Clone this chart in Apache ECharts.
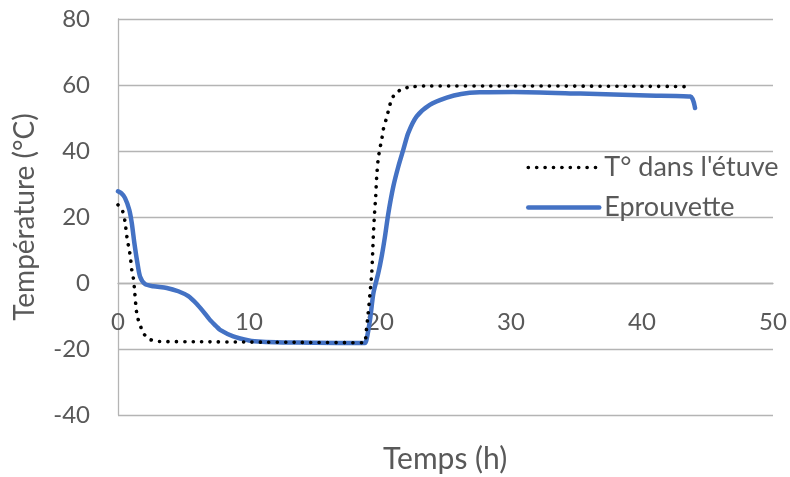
<!DOCTYPE html>
<html><head><meta charset="utf-8">
<script src="https://cdn.jsdelivr.net/npm/echarts@6/dist/echarts.min.js"></script>
<style>html,body{margin:0;padding:0;background:#fff}#c{width:790px;height:477px}</style>
</head><body><div id="c"></div>
<script>
const etuveX = [0, 0.36, 0.53, 0.71, 0.86, 0.97, 1.05, 1.17, 1.25, 1.37, 1.47, 1.68, 1.93, 2.39, 3, 6, 10, 14, 18.8, 18.93, 19.1, 19.24, 19.37, 19.44, 19.49, 19.57, 19.67, 19.75, 19.87, 20, 20.13, 20.25, 20.46, 20.63, 20.82, 21.1, 21.6, 22.3, 23.6, 30, 40, 43.3, 43.5];
const etuveY = [23.7, 21.7, 18.7, 13.1, 10.1, 7, 4, 1.5, -1.5, -7.1, -10.1, -12.6, -15.2, -17, -17.7, -17.8, -17.9, -18, -18.1, -15.2, -9.1, -3, 3, 9.1, 14.1, 20.2, 26.2, 32.3, 37.9, 40.9, 43.4, 46.5, 49.5, 52, 54.8, 57.1, 58.6, 59.4, 59.7, 59.7, 59.6, 59.5, 58.8];
const eprouX = [0, 0.25, 0.53, 0.86, 1.05, 1.25, 1.48, 1.68, 2.06, 2.7, 3.72, 4.6, 5.37, 6.0, 6.5, 7, 7.5, 7.79, 8.8, 10, 11, 12.6, 15, 18.85, 18.98, 19.24, 19.5, 19.87, 20.13, 20.38, 20.64, 21.02, 21.4, 21.78, 22.16, 22.8, 23.8, 25.1, 26.2, 27.6, 30.2, 35.3, 40.4, 43.7, 44.05];
const eprouY = [27.8, 27.2, 25.8, 22.2, 18.2, 12.1, 6.1, 2, -0.3, -1, -1.5, -2.5, -4, -6.3, -8.6, -11.1, -13.1, -14.2, -16.2, -17.4, -17.8, -18, -18.1, -18.2, -17, -11.1, -3, 3, 8.1, 14.1, 21.2, 29.3, 35.3, 40.4, 45.5, 50.5, 54, 56.2, 57.3, 57.8, 57.9, 57.4, 56.8, 56.5, 53];
const xTicks = [0, 10, 20, 30, 40, 50];
const yTicks = [-40, -20, 0, 20, 40, 60, 80];
const seriesNames = ["T° dans l'étuve", "Eprouvette"];
const xTitle = 'Temps (h)';
const yTitle = 'Température (°C)';

const FONT = 'Lato';
const GREY = '#595959';
const chart = echarts.init(document.getElementById('c'), null, {renderer: 'canvas'});
chart.setOption({
  animation: false,
  textStyle: {fontFamily: FONT},
  grid: {left: 118, right: 17, top: 19, bottom: 62, containLabel: false},
  title: {text: xTitle, left: 383, top: 444, padding: 0,
    textStyle: {fontFamily: FONT, fontSize: 30, fontWeight: 'normal', color: GREY}},
  legend: {
    orient: 'vertical', left: 521, top: 149, itemWidth: 71, itemHeight: 1, itemGap: 13,
    textStyle: {fontFamily: FONT, fontSize: 27, color: GREY},
    data: [
      {name: seriesNames[0], lineStyle: {width: 3.6, type: [0.1, 8.3], cap: 'round', color: '#000'}},
      {name: seriesNames[1], lineStyle: {width: 4.5, color: '#4472C4', cap: 'round'}}
    ]
  },
  xAxis: {
    type: 'value', min: xTicks[0], max: xTicks[xTicks.length - 1], interval: 10,
    position: 'bottom', offset: -132,
    axisLine: {onZero: false, lineStyle: {color: '#b4b4b4', width: 1.3}},
    axisTick: {show: false},
    splitLine: {show: false},
    axisLabel: {fontFamily: FONT, fontSize: 24, color: GREY, margin: 27}
  },
  yAxis: {
    type: 'value', min: yTicks[0], max: yTicks[yTicks.length - 1], interval: 20,
    name: yTitle, nameLocation: 'middle', nameGap: 79, nameRotate: 90,
    nameTextStyle: {fontFamily: FONT, fontSize: 28, color: GREY},
    axisLine: {show: true, onZero: false, lineStyle: {color: '#b4b4b4', width: 1.3}},
    axisTick: {show: false},
    splitLine: {show: true, lineStyle: {color: '#b4b4b4', width: 1.3}},
    axisLabel: {fontFamily: FONT, fontSize: 24, color: GREY, margin: 28}
  },
  series: [
    {
      name: seriesNames[0], type: 'line', z: 3,
      data: etuveX.map((x, i) => [x, etuveY[i]]),
      symbol: 'none', smooth: 0.25,
      lineStyle: {color: '#000000', width: 3.6, type: [0.1, 8.3], cap: 'round'},
      itemStyle: {color: '#000000'}
    },
    {
      name: seriesNames[1], type: 'line', z: 2,
      data: eprouX.map((x, i) => [x, eprouY[i]]),
      symbol: 'none', smooth: 0.25,
      lineStyle: {color: '#4472C4', width: 4.5, cap: 'round', join: 'round'},
      itemStyle: {color: '#4472C4'}
    }
  ]
});
</script></body></html>
